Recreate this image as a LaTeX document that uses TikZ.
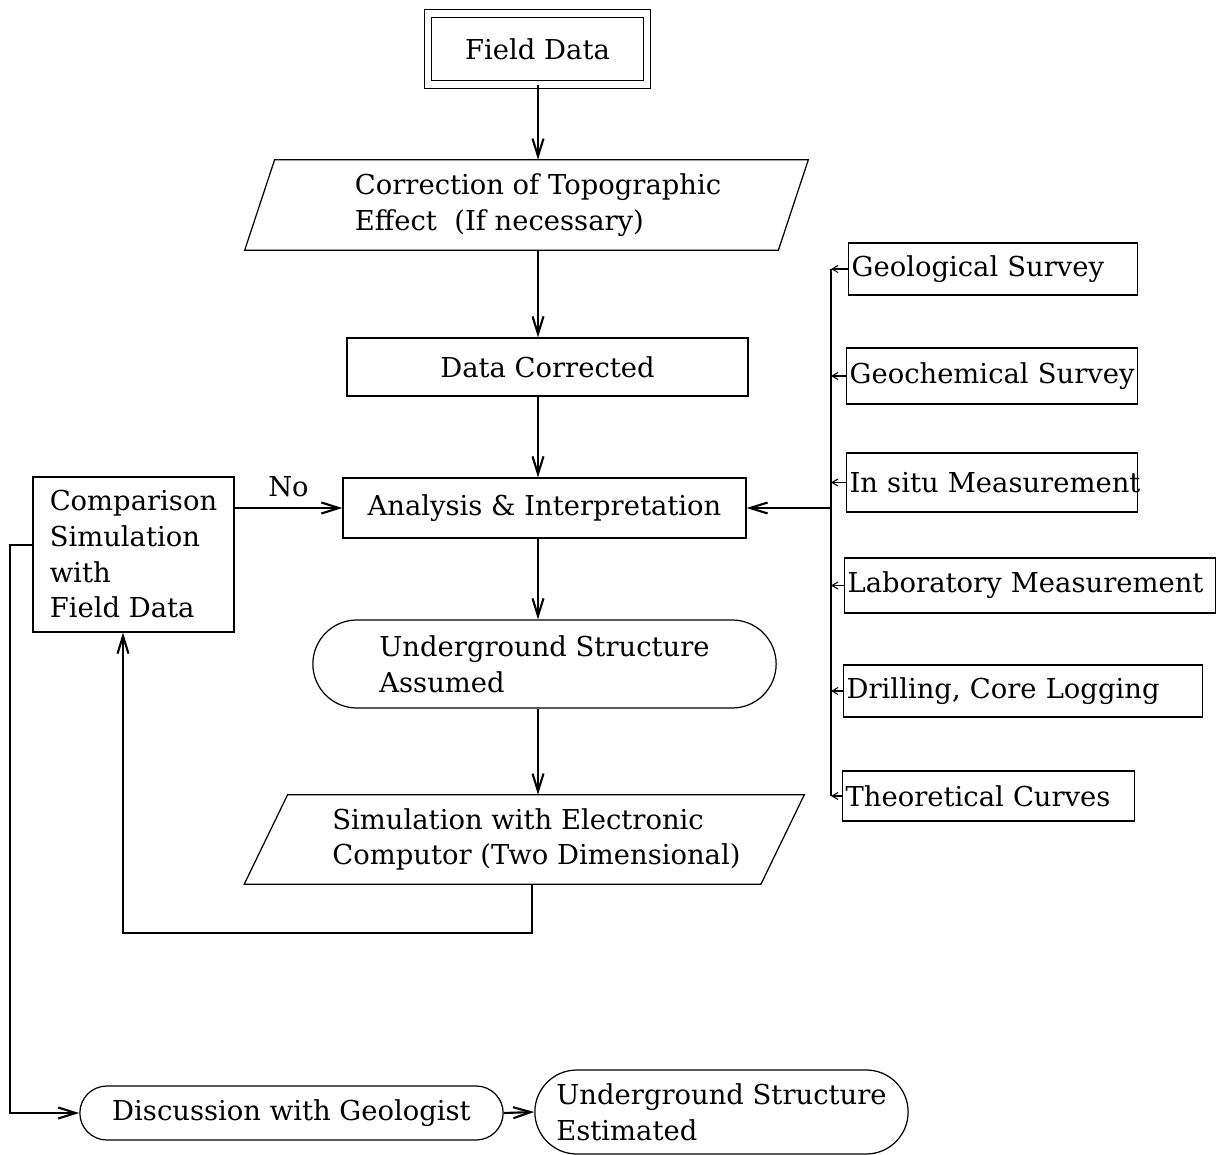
\documentclass[tikz,border=0pt]{standalone}
\usepackage{fontspec}
\setmainfont{DejaVu Serif}
\usepackage{tikz}
\usetikzlibrary{positioning, arrows.meta, shapes.misc}

\tikzset{
    box/.style={draw, line width=0.7pt, align=left},
    stadium/.style={draw, line width=0.7pt, rounded rectangle, align=left},
    slantbody/.style={align=left, inner sep=0pt},
    slantline/.style={line width=0.7pt},
    srcbox/.style={draw, line width=0.7pt, anchor=west, align=left, inner xsep=0.6mm, text width=#1},
    flow/.style={line width=1.2pt, -{Straight Barb[length=3.5mm,width=2.2mm]}},
    bus/.style={line width=1.2pt},
    tick/.style={line width=0.6pt, -{Straight Barb[length=1.2mm,width=1.4mm]}}
}

\begin{document}
\begin{tikzpicture}[x=0.2mm, y=-0.2mm, font=\fontsize{15.6}{20.3}\selectfont]
        \useasboundingbox (0,0) rectangle (1221,1155);
        \coordinate (col) at (538,0);
        \coordinate (bus) at (831,0);

        % main column
        \node[box, double, double distance=1.3mm, minimum width=43.8mm, minimum height=14.2mm] (field) at (537.5,49) {Field Data};
        \node[slantbody, minimum width=106.6mm, minimum height=18mm] (corr) at (538,205) {Correction of Topographic\\Effect \ (If necessary)};
        \draw[slantline] ([xshift=0.7mm]corr.north west) -- ([xshift=0.7mm]corr.north east)
            -- ([xshift=-5.3mm]corr.south east) -- ([xshift=-5.3mm]corr.south west) -- cycle;
        \node[box, minimum width=80.2mm, minimum height=11.6mm] (datc) at (547.5,367) {Data Corrected};
        \node[box, minimum width=80.6mm, minimum height=12mm] (anal) at (544.5,508) {Analysis \& Interpretation};
        \node[stadium, minimum width=95mm, minimum height=17.6mm] (assum) at (544.5,664) {Underground Structure\\Assumed};
        \node[slantbody, minimum width=103.2mm, minimum height=17.8mm] (sim) at (536.5,839.5) {Simulation with Electronic\\Computor (Two Dimensional)};
        \draw[slantline] ([xshift=1.9mm]sim.north west) -- ([xshift=1.9mm]sim.north east)
            -- ([xshift=-6.8mm]sim.south east) -- ([xshift=-6.8mm]sim.south west) -- cycle;

        \node[box, minimum width=40.2mm, minimum height=31mm] (comp) at (133.5,554.5) {Comparison\\Simulation\\with\\Field Data};
        \node[stadium, minimum width=87mm, minimum height=10.8mm] (disc) at (291.5,1113) {Discussion with Geologist};
        \node[stadium, minimum width=77mm, minimum height=16.8mm] (est) at (721.5,1112) {Underground Structure\\Estimated};

        \draw[flow] (field.south -| col) -- (corr.north -| col);
        \draw[flow] (corr.south -| col) -- (datc.north -| col);
        \draw[flow] (datc.south -| col) -- (anal.north -| col);
        \draw[flow] (anal.south -| col) -- (assum.north -| col);
        \draw[flow] (assum.south -| col) -- (sim.north -| col);

        % feedback loops
        \coordinate (back) at (532,933);
        \coordinate (up) at (123,933);
        \coordinate (side) at (10,545);
        \draw[flow] (sim.south -| back) -- (back) -- (up) -- (up |- comp.south);
        \draw[flow] (anal.west -| comp.east) -- node[above, yshift=0.8mm] {No} (anal.west);
        \draw[flow] (comp.west |- side) -- (side) |- (disc.west);
        \draw[flow] (disc.east) -- (est.west);

        % other sources of information
        \foreach \n/\txt/\x/\y/\w/\h in {
            geo/{Geological Survey}/848/269/56.6/10.4,
            chem/{Geochemical Survey}/846/376/57/11.2,
            insitu/{In situ Measurement}/846/482.5/57/11.8,
            lab/{Laboratory Measurement}/844/585.5/73/11,
            drill/{Drilling, Core Logging}/843/691/70.6/10.4,
            theo/{Theoretical Curves}/842/796/57.2/10} {
            \node[srcbox=\w mm, minimum height=\h mm] (\n) at (\x,\y) {\mbox{\txt}};
            \draw[tick] (\n.west) -- (\n.west -| bus);
        }
        \draw[bus] (geo.west -| bus) -- (theo.west -| bus);
        \draw[flow] (anal.east -| bus) -- (anal.east);
    \end{tikzpicture}
\end{document}
